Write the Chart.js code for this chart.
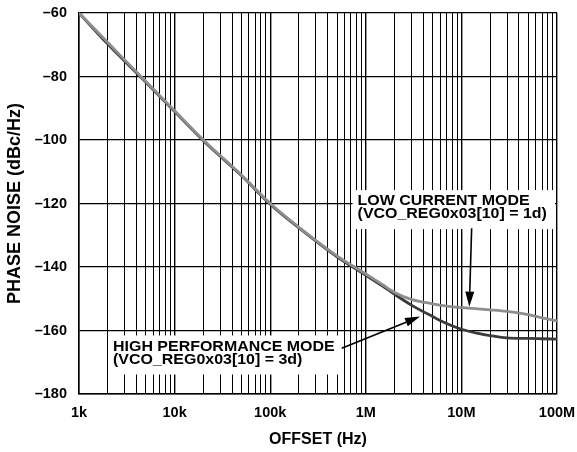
<!DOCTYPE html>
<html>
<head>
<meta charset="utf-8">
<style>
  html, body { margin: 0; padding: 0; background: #fff; }
  #wrap { width: 577px; height: 452px; }
</style>
</head>
<body>
<div id="wrap"><canvas id="noiseChart"></canvas></div>
<script src="https://cdn.jsdelivr.net/npm/chart.js@4.4.1/dist/chart.umd.min.js"></script>
<script>
// offset frequency (Hz) and phase noise (dBc/Hz)
const offsetHz = [1e3, 2e3, 5e3, 1e4, 2e4, 5e4, 1e5, 2e5, 5e5, 1e6, 1.5e6, 2e6, 3e6, 5e6, 7e6, 1e7, 1.5e7, 2e7, 3e7, 5e7, 7e7, 1e8];
const lowCurrent = [-60, -69.3, -81.6, -90.8, -100, -111, -120, -127.5, -136.5, -142.2, -145.6, -148, -150.2, -151.6, -152.3, -152.8, -153.2, -153.5, -154, -155, -156, -157];
const highPerf = [-60, -69.8, -81.8, -91, -100.2, -111.2, -120.2, -127.7, -136.8, -142.6, -146, -148.6, -152, -155.6, -157.8, -159.6, -160.9, -161.6, -162.3, -162.5, -162.6, -162.7];

const xTickValues = [1e3, 1e4, 1e5, 1e6, 1e7, 1e8];
const xTickLabels = ['1k', '10k', '100k', '1M', '10M', '100M'];
const yTickValues = [-60, -80, -100, -120, -140, -160, -180];
const yTickLabels = ['–60', '–80', '–100', '–120', '–140', '–160', '–180'];

const FONT = '"Liberation Sans", Arial, Helvetica, sans-serif';
const minorSteps = [1, 2, 3, 4, 5, 6, 7, 8, 9];

// text boxes + arrows, anchored in data units
const notes = [
    { lines: ['LOW CURRENT MODE', '(VCO_REG0x03[10] = 1d)'], x: 8.2e5, y: -120.5, clampRight: true,
      arrow: { from: [1.28e7, -127.8], to: [1.21e7, -152.5] } },
    { lines: ['HIGH PERFORMANCE MODE', '(VCO_REG0x03[10] = 3d)'], x: 2.27e3, y: -166.3,
      arrow: { from: [5.6e5, -165.6], to: [3.69e6, -155.6] } }
];
const STRETCH = 1.14;
const LINE_GAP = 13;

function drawArrow(ctx, x0, y0, x1, y1) {
    const ang = Math.atan2(y1 - y0, x1 - x0);
    const len = 15, half = 4.5;
    const bx = x1 - len * Math.cos(ang), by = y1 - len * Math.sin(ang);
    ctx.beginPath();
    ctx.moveTo(x0, y0);
    ctx.lineTo(bx, by);
    ctx.lineWidth = 1.6;
    ctx.strokeStyle = '#000';
    ctx.stroke();
    ctx.beginPath();
    ctx.moveTo(x1, y1);
    ctx.lineTo(bx + half * Math.sin(ang), by - half * Math.cos(ang));
    ctx.lineTo(bx - half * Math.sin(ang), by + half * Math.cos(ang));
    ctx.closePath();
    ctx.fillStyle = '#000';
    ctx.fill();
}

const notePlugin = {
    id: 'notes',
    beforeDatasetsDraw(chart) {
        const { ctx, scales: { x, y }, chartArea } = chart;
        ctx.save();
        ctx.font = 'bold 14px ' + FONT;
        notes.forEach(n => {
            const tx = x.getPixelForValue(n.x);
            const ty = y.getPixelForValue(n.y);
            const w = Math.max(...n.lines.map(l => ctx.measureText(l).width)) * STRETCH;
            let right = tx + w + 6;
            if (n.clampRight) right = Math.min(chartArea.right - 2, tx + w + 9);
            ctx.fillStyle = '#fff';
            ctx.fillRect(tx - 5, ty - 15, right - (tx - 5), LINE_GAP * (n.lines.length - 1) + 26);
            ctx.fillStyle = '#000';
            ctx.textBaseline = 'alphabetic';
            n.lines.forEach((l, i) => {
                ctx.save();
                ctx.translate(tx, ty + i * LINE_GAP);
                ctx.scale(STRETCH, 1);
                ctx.fillText(l, 0, 0);
                ctx.restore();
            });
        });
        ctx.restore();
    },
    afterDatasetsDraw(chart) {
        const { ctx, scales: { x, y } } = chart;
        ctx.save();
        notes.forEach(n => {
            const a = n.arrow;
            drawArrow(ctx,
                x.getPixelForValue(a.from[0]), y.getPixelForValue(a.from[1]),
                x.getPixelForValue(a.to[0]), y.getPixelForValue(a.to[1]));
        });
        ctx.restore();
    }
};

const ctxNoise = document.getElementById('noiseChart');
new Chart(ctxNoise, {
    type: 'line',
    data: {
        datasets: [{
            label: 'Low current mode',
            data: offsetHz.map((f, i) => ({ x: f, y: lowCurrent[i] })),
            borderColor: '#8e8e8e',
            borderWidth: 2.8,
            pointRadius: 0,
            cubicInterpolationMode: 'monotone'
        }, {
            label: 'High performance mode',
            data: offsetHz.map((f, i) => ({ x: f, y: highPerf[i] })),
            borderColor: '#3a3a3a',
            borderWidth: 2.8,
            pointRadius: 0,
            cubicInterpolationMode: 'monotone'
        }]
    },
    options: {
        responsive: true,
        maintainAspectRatio: false,
        animation: false,
        layout: { padding: { left: 0, right: 20, top: 13, bottom: 0 } },
        plugins: {
            legend: { display: false },
            tooltip: { enabled: false }
        },
        scales: {
            x: {
                type: 'logarithmic',
                min: 1e3,
                max: 1e8,
                afterBuildTicks: function (scale) {
                    const ticks = [];
                    xTickValues.forEach(d => {
                        minorSteps.forEach(m => {
                            if (d * m <= 1e8) ticks.push({ value: d * m });
                        });
                    });
                    scale.ticks = ticks;
                },
                afterFit: function (scale) {
                    scale.height = 58;
                    scale.paddingLeft = 0;
                    scale.paddingRight = 0;
                },
                ticks: {
                    autoSkip: false,
                    maxRotation: 0,
                    padding: 10,
                    color: '#000',
                    font: { family: FONT, size: 14.5, weight: 'bold' },
                    callback: function (value) {
                        const i = xTickValues.indexOf(value);
                        return i >= 0 ? xTickLabels[i] : '';
                    }
                },
                grid: {
                    color: '#000',
                    lineWidth: function (c) {
                        return c.tick && xTickValues.indexOf(c.tick.value) >= 0 ? 1.4 : 1;
                    },
                    drawTicks: false
                },
                border: { display: true, color: '#000', width: 1.5 },
                title: {
                    display: true,
                    text: 'OFFSET (Hz)',
                    color: '#000',
                    font: { family: FONT, size: 16, weight: 'bold' },
                    padding: { top: 0, bottom: 3 }
                }
            },
            y: {
                min: -180,
                max: -60,
                afterBuildTicks: function (scale) {
                    scale.ticks = yTickValues.map(v => ({ value: v }));
                },
                afterFit: function (scale) {
                    scale.width = 79;
                    scale.paddingTop = 0;
                    scale.paddingBottom = 0;
                },
                ticks: {
                    padding: 12,
                    color: '#000',
                    font: { family: FONT, size: 14.5, weight: 'bold' },
                    callback: function (value) {
                        const i = yTickValues.indexOf(value);
                        return i >= 0 ? yTickLabels[i] : '';
                    }
                },
                grid: { color: '#000', lineWidth: 1.2, drawTicks: false },
                border: { display: true, color: '#000', width: 1.5 },
                title: {
                    display: true,
                    text: 'PHASE NOISE (dBc/Hz)',
                    color: '#000',
                    font: { family: FONT, size: 18, weight: 'bold' },
                    padding: { top: 4, bottom: 0 }
                }
            }
        }
    },
    plugins: [notePlugin]
});
</script>
</body>
</html>
